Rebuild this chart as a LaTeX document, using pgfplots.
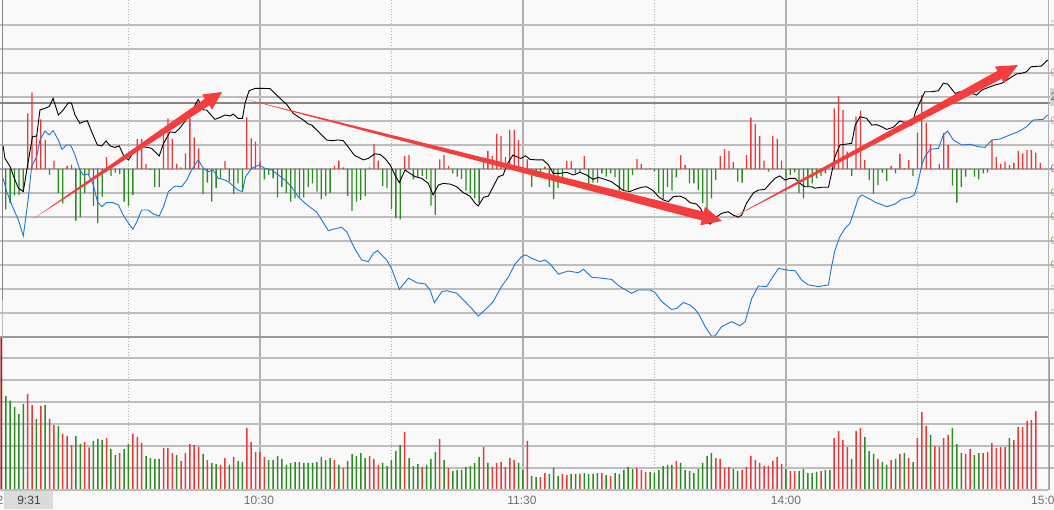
\documentclass[border=0pt]{standalone}
\usepackage{pgfplots}
\pgfplotsset{compat=1.18}
\usepackage{pgfplotstable}
\usepackage{fontspec}
\setmainfont{Liberation Sans}
\usetikzlibrary{calc}

\definecolor{bg}{HTML}{F9F9F9}
\definecolor{gridc}{HTML}{BDBDBD}
\definecolor{vgridc}{HTML}{B0B0B0}
\definecolor{dotc}{HTML}{A0A0A0}
\definecolor{upc}{HTML}{E8383A}
\definecolor{dnc}{HTML}{2E8B23}
\definecolor{bluec}{HTML}{1C78D4}
\definecolor{arrowc}{HTML}{F53D3D}
\definecolor{auctc}{HTML}{8B2A2A}
\definecolor{labc}{HTML}{707070}

% price line (black), units: one grid step = 1
\pgfplotstableread[row sep=\\]{
t v \\ 1.4 0.96 \\ 1.8 0.45 \\ 3 0.1 \\ 4.1 -0.46 \\ 4.9 -0.8 \\ 6 -0.94 \\ 6.8 -0.04 \\ 7.5 0.72 \\
8.1 1.35 \\ 9.05 1.37 \\ 9.8 2.46 \\ 10.95 2.53 \\ 11.9 2.6 \\ 12.8 2.94 \\ 14 2.25 \\ 15.1 2.46 \\
16.3 2.76 \\ 17 2.74 \\ 17.8 2.25 \\ 18.9 1.9 \\ 19.7 1.97 \\ 20.6 2.01 \\ 21.6 1.55 \\ 22.9 1.0 \\
23.9 0.96 \\ 24.9 1.17 \\ 25.8 0.96 \\ 26.9 0.9 \\ 27.9 0.96 \\ 29 0.51 \\ 30 0.38 \\ 30.7 0.58 \\
31.9 0.86 \\ 33.4 0.93 \\ 35.3 0.86 \\ 37 0.54 \\ 38 1.07 \\ 39.5 1.55 \\ 40.6 1.51 \\ 41.7 1.7 \\
44 2.25 \\ 45.9 2.9 \\ 47.1 2.46 \\ 47.8 2.46 \\ 49.7 2.07 \\ 50.9 2.15 \\ 52 2.25 \\ 53.2 2.21 \\
53.9 2.29 \\ 55 2.11 \\ 56 2.11 \\ 56.6 2.74 \\ 57.5 3.26 \\ 58.9 3.36 \\ 60.4 3.36 \\ 62.3 3.35 \\
63.4 3.15 \\ 64.6 2.94 \\ 66.1 2.69 \\ 67.6 2.32 \\ 68.7 2.18 \\ 69.9 2.04 \\ 71 1.88 \\ 71.8 1.83 \\
72.9 1.63 \\ 74.1 1.42 \\ 75.2 1.21 \\ 76.4 1.18 \\ 77.9 1.21 \\ 79 1.18 \\ 80.2 0.9 \\ 81.5 0.58 \\
83.6 0.38 \\ 84.7 0.44 \\ 86.2 0.63 \\ 87.4 0.61 \\ 88.5 0.44 \\ 89.7 0.17 \\ 90.8 -0.25 \\ 91.8 -0.57 \\
93.1 -0.04 \\ 94.2 -0.18 \\ 95.4 -0.32 \\ 96.9 -0.39 \\ 98.4 -0.6 \\ 99.5 -1.08 \\ 100.7 -0.67 \\ 101.8 -0.6 \\
103.4 -0.63 \\ 104.9 -0.74 \\ 106.4 -0.99 \\ 107.9 -1.13 \\ 109.1 -1.43 \\ 109.8 -1.54 \\ 111 -1.18 \\ 112.1 -1.13 \\
113.2 -0.74 \\ 114.4 -0.32 \\ 115.5 -0.25 \\ 116.3 0.17 \\ 117.7 0.58 \\ 118.6 0.51 \\ 119.5 0.44 \\ 120.6 0.55 \\
121.6 0.4 \\ 123.1 0.38 \\ 124.6 0.38 \\ 125.8 0.17 \\ 126.9 -0.18 \\ 128.4 -0.18 \\ 130 -0.14 \\ 131.5 -0.25 \\
133 -0.14 \\ 134.5 -0.25 \\ 136 -0.43 \\ 137.2 -0.35 \\ 138.7 -0.43 \\ 140.2 -0.53 \\ 141.8 -0.74 \\ 142.9 -0.9 \\
144.4 -0.94 \\ 145.6 -0.85 \\ 147.1 -0.76 \\ 148.2 -0.74 \\ 149.7 -0.9 \\ 150.9 -1.15 \\ 152 -1.29 \\ 153.2 -1.36 \\
154.3 -1.15 \\ 155.8 -1.13 \\ 157 -1.22 \\ 158.1 -1.4 \\ 159.6 -1.46 \\ 160.6 -1.66 \\ 161.5 -2.05 \\ 162.7 -2.3 \\
164.2 -1.99 \\ 165.3 -1.85 \\ 166.8 -1.78 \\ 168 -1.92 \\ 169.1 -2.01 \\ 169.9 -1.92 \\ 171 -1.43 \\ 172.6 -0.99 \\
173.7 -0.88 \\ 175.2 -0.85 \\ 176.4 -0.6 \\ 177.5 -0.39 \\ 178.6 -0.29 \\ 179.8 -0.46 \\ 180.9 -0.39 \\ 182.1 -0.39 \\
183.2 -0.6 \\ 184.3 -0.74 \\ 185.9 -0.74 \\ 186.6 -0.8 \\ 188.2 -0.76 \\ 189.7 -0.76 \\ 190.4 -0.18 \\ 191.2 0.51 \\
192.3 1.0 \\ 193.9 1.04 \\ 195 1.07 \\ 195.8 1.83 \\ 196.9 2.18 \\ 198.4 2.11 \\ 199.6 1.83 \\ 200.6 1.85 \\
201.5 1.79 \\ 203 1.65 \\ 204.5 1.74 \\ 206 2.0 \\ 207.2 1.93 \\ 208.7 1.83 \\ 209.6 2.39 \\ 210.6 2.8 \\
211.7 3.22 \\ 213.2 3.22 \\ 214.8 3.26 \\ 215.9 3.57 \\ 216.9 3.54 \\ 218.6 3.15 \\ 219.7 3.22 \\ 221.2 3.18 \\
222.4 3.15 \\ 223.5 3.08 \\ 224.7 3.29 \\ 226.2 3.4 \\ 227.7 3.5 \\ 229.2 3.57 \\ 230.7 3.74 \\ 232.6 3.96 \\
233.8 3.99 \\ 234.9 4.05 \\ 235.9 4.26 \\ 238.3 4.29 \\ 239.7 4.54 \\
}\blackdata

% index line (blue)
\pgfplotstableread[row sep=\\]{
t v \\ 1.4 -0.39 \\ 2.2 -0.94 \\ 3.7 -1.64 \\ 4.9 -2.13 \\ 6 -2.79 \\ 7.1 -1.29 \\ 7.9 0.1 \\ 9.05 0.51 \\
9.8 1.21 \\ 10.95 1.58 \\ 11.9 1.42 \\ 12.8 1.6 \\ 14 1.21 \\ 14.8 0.82 \\ 15.9 1.0 \\ 16.8 1.0 \\
17.8 0.58 \\ 18.9 -0.04 \\ 19.7 -0.25 \\ 20.8 -0.21 \\ 22 -0.67 \\ 22.9 -1.36 \\ 23.9 -1.57 \\ 25 -1.4 \\
26.5 -1.4 \\ 27.7 -1.5 \\ 28.8 -1.92 \\ 30 -2.26 \\ 31 -2.51 \\ 31.9 -2.2 \\ 33 -1.71 \\ 34.5 -1.71 \\
35.7 -1.88 \\ 37 -1.96 \\ 38 -1.57 \\ 39.1 -0.94 \\ 40.6 -0.71 \\ 42.1 -0.74 \\ 43.3 -0.46 \\ 44.4 -0.04 \\
45.9 0.38 \\ 47.1 0.03 \\ 48.2 -0.11 \\ 49.3 -0.04 \\ 50.5 -0.39 \\ 51.6 -0.43 \\ 52.8 -0.53 \\ 53.9 -0.71 \\
55 -0.88 \\ 56 -0.94 \\ 56.7 -0.32 \\ 58.1 0.03 \\ 59.8 0.17 \\ 61.1 0.03 \\ 62.7 -0.04 \\ 64.2 -0.25 \\
65.7 -0.46 \\ 67.2 -0.74 \\ 68.7 -1.15 \\ 70.3 -1.43 \\ 71.8 -1.64 \\ 72.9 -1.78 \\ 74.1 -2.13 \\ 75.6 -2.57 \\
76.7 -2.51 \\ 78.6 -2.43 \\ 79.8 -2.61 \\ 80.9 -3.05 \\ 81.7 -3.35 \\ 83.2 -3.79 \\ 84.7 -3.86 \\ 85.9 -3.51 \\
86.8 -3.4 \\ 88.9 -3.79 \\ 90 -4.14 \\ 91.8 -5.01 \\ 93.9 -4.55 \\ 95.8 -4.74 \\ 97.7 -4.79 \\ 98.8 -5.04 \\
99.8 -5.57 \\ 101.5 -5.11 \\ 102.6 -5.07 \\ 104.9 -5.18 \\ 106.8 -5.53 \\ 108.3 -5.81 \\ 109.8 -6.13 \\ 111.3 -5.88 \\
113.2 -5.53 \\ 115.1 -4.9 \\ 116.7 -4.49 \\ 118.2 -3.96 \\ 119.7 -3.65 \\ 120.6 -3.58 \\ 122 -3.72 \\ 123.9 -3.86 \\
125 -3.79 \\ 126.2 -3.96 \\ 128.1 -4.38 \\ 130.3 -4.25 \\ 132.6 -4.32 \\ 133.8 -4.18 \\ 135.7 -4.51 \\ 137.9 -4.55 \\
140.2 -4.6 \\ 142.1 -4.9 \\ 144.8 -5.18 \\ 146.3 -5.04 \\ 149 -5.04 \\ 150.1 -5.14 \\ 151.7 -5.53 \\ 153.9 -5.85 \\
155.1 -5.81 \\ 156.6 -5.56 \\ 158.1 -5.67 \\ 159.3 -5.85 \\ 160.4 -6.14 \\ 161.5 -6.55 \\ 163 -6.96 \\ 163.8 -6.96 \\
165.3 -6.57 \\ 167.6 -6.36 \\ 169.5 -6.53 \\ 170.7 -6.36 \\ 172.2 -5.39 \\ 173.7 -4.88 \\ 175.6 -4.9 \\ 176.8 -4.55 \\
178.3 -4.14 \\ 180.2 -4.21 \\ 182.1 -4.24 \\ 183.6 -4.63 \\ 185.1 -4.83 \\ 187.4 -4.9 \\ 189.7 -4.83 \\ 190.4 -4.07 \\
191.2 -3.38 \\ 192.3 -2.82 \\ 193.5 -2.47 \\ 194.6 -2.26 \\ 195.4 -1.85 \\ 196.5 -1.22 \\ 197.3 -1.08 \\ 199.2 -1.26 \\
200.5 -1.4 \\ 201.5 -1.46 \\ 203 -1.57 \\ 204.9 -1.46 \\ 206.4 -1.26 \\ 208.3 -1.18 \\ 209.3 -1.08 \\ 210.1 -0.6 \\
211 0.17 \\ 211.7 0.51 \\ 212.9 0.82 \\ 214.8 0.86 \\ 215.9 1.42 \\ 216.9 1.58 \\ 218.2 1.21 \\ 220.1 1.0 \\
222 1.03 \\ 223.9 0.93 \\ 225.4 0.9 \\ 227 1.21 \\ 228.9 1.25 \\ 231.1 1.42 \\ 233 1.55 \\ 234.9 1.76 \\
236.4 2.04 \\ 238.7 2.07 \\ 239.7 2.25 \\
}\bluedata

% red/green bars around the zero line
\pgfplotstableread[row sep=\\]{
t v \\ 2 -1.68 \\ 3 -1.43 \\ 4 -1.1 \\ 5 -1.08 \\ 6 -0.94 \\ 7 2.32 \\ 8 3.18 \\ 9 1.42 \\ 10 2.07 \\
11 1.21 \\ 12 -0.25 \\ 13 0.35 \\ 14 -1.01 \\ 15 -1.43 \\ 16 0.125 \\ 17 0.17 \\ 18 -2.15 \\ 19 -1.99 \\ 20 -1.01 \\
21 -0.25 \\ 22 -1.54 \\ 23 -2.26 \\ 24 -1.15 \\ 25 0.49 \\ 26 -0.29 \\ 27 -0.15 \\ 28 -0.21 \\ 29 -1.36 \\ 30 -1.54 \\
31 -1.08 \\ 32 1.24 \\ 33 1.24 \\ 34 0.21 \\ 35 -0.05 \\ 36 -0.76 \\ 37 -0.76 \\ 38 1.55 \\ 39 2.11 \\ 40 1.25 \\
41 0.21 \\ 42 0.07 \\ 43 0.65 \\ 44 2.11 \\ 45 1.32 \\ 46 0.86 \\ 47 -1.05 \\ 48 -0.57 \\ 49 -1.36 \\ 50 -0.8 \\
51 -0.39 \\ 52 0.33 \\ 53 -0.53 \\ 54 -1.04 \\ 55 -0.6 \\ 56 -0.88 \\ 57 2.15 \\ 58 1.28 \\ 59 1.14 \\ 60 0.31 \\
61 -0.43 \\ 62 -0.25 \\ 63 -0.39 \\ 64 -1.18 \\ 65 -0.74 \\ 66 -0.99 \\ 67 -1.36 \\ 68 -1.22 \\ 69 -1.18 \\ 70 -1.18 \\
71 -0.76 \\ 72 -0.6 \\ 73 -0.94 \\ 74 -1.26 \\ 75 -1.13 \\ 76 -0.99 \\ 77 0.125 \\ 78 0.35 \\ 79 0.07 \\ 80 -1.13 \\
81 -1.74 \\ 82 -1.36 \\ 83 -1.29 \\ 84 -1.13 \\ 85 0.07 \\ 86 1.04 \\ 87 0.35 \\ 88 -0.71 \\ 89 -0.8 \\ 90 -1.67 \\
91 -2.05 \\ 92 -2.1 \\ 93 0.54 \\ 94 0.58 \\ 95 -0.43 \\ 96 -0.35 \\ 97 -0.29 \\ 98 -0.43 \\ 99 -1.53 \\ 100 -1.92 \\
101 0.4 \\ 102 0.58 \\ 103 0.125 \\ 104 -0.18 \\ 105 -0.32 \\ 106 -0.42 \\ 107 -0.9 \\ 108 -0.99 \\ 109 -1.22 \\ 110 -1.43 \\
111 0.35 \\ 112 0.76 \\ 113 0.54 \\ 114 1.46 \\ 115 1.37 \\ 116 0.49 \\ 117 1.63 \\ 118 1.63 \\ 119 1.21 \\ 121 0.4 \\
122 -0.74 \\ 123 -0.32 \\ 124 -0.36 \\ 125 0.1 \\ 126 -0.74 \\ 127 -1.26 \\ 128 -0.8 \\ 129 -0.35 \\ 130 0.33 \\ 131 0.33 \\
132 -0.18 \\ 133 -0.15 \\ 134 0.54 \\ 135 -0.8 \\ 136 -0.57 \\ 137 -0.57 \\ 138 -0.18 \\ 139 -0.32 \\ 140 -0.18 \\ 141 -0.35 \\
142 -0.9 \\ 143 -0.9 \\ 144 -0.9 \\ 145 -0.26 \\ 146 0.42 \\ 147 0.21 \\ 148 -0.03 \\ 149 0.03 \\ 150 -0.1 \\ 151 -0.99 \\
152 -1.26 \\ 153 -0.74 \\ 154 -0.9 \\ 155 -0.35 \\ 156 0.58 \\ 157 0.17 \\ 158 -0.6 \\ 159 -0.6 \\ 160 -0.88 \\ 161 -1.42 \\
162 -1.96 \\ 163 -1.22 \\ 164 -0.46 \\ 165 0.54 \\ 166 0.83 \\ 167 0.75 \\ 168 0.29 \\ 169 -0.53 \\ 170 -0.57 \\ 171 0.58 \\
172 2.14 \\ 173 1.88 \\ 174 1.37 \\ 175 0.35 \\ 176 -0.11 \\ 177 1.37 \\ 178 1.25 \\ 179 0.35 \\ 180 -0.39 \\ 181 -0.25 \\
182 -0.14 \\ 183 -0.99 \\ 184 -1.22 \\ 185 -0.74 \\ 186 -0.6 \\ 187 -0.39 \\ 188 -0.29 \\ 189 -0.18 \\ 191 2.53 \\ 192 3.04 \\
193 2.46 \\ 194 0.72 \\ 195 -0.29 \\ 196 2.18 \\ 197 2.43 \\ 198 0.38 \\ 199 -0.46 \\ 200 -1.04 \\ 201 -0.67 \\ 202 -0.15 \\
203 -0.49 \\ 204 0.125 \\ 205 -0.18 \\ 206 0.63 \\ 207 0.05 \\ 208 0.38 \\ 209 -0.29 \\ 210 1.51 \\ 211 3.08 \\ 212 1.93 \\
213 1.04 \\ 215 0.21 \\ 216 1.51 \\ 217 1.0 \\ 218 -0.69 \\ 219 -1.4 \\ 220 -0.74 \\ 221 -0.32 \\ 222 -0.03 \\ 223 -0.32 \\
224 -0.43 \\ 225 -0.18 \\ 226 -0.15 \\ 227 1.21 \\ 228 0.51 \\ 229 0.21 \\ 230 0.31 \\ 231 0.17 \\ 232 0.26 \\ 233 0.75 \\
234 0.65 \\ 235 0.79 \\ 236 0.79 \\ 237 0.68 \\ 238 0.26 \\
}\bardata

% volume: c = 1 up (red), -1 down (green), 2 opening auction
\pgfplotstableread[row sep=\\]{
t v c \\ 1 6.94 2 \\ 2 4.27 -1 \\ 3 4.06 -1 \\ 4 3.77 -1 \\ 5 3.45 -1 \\ 6 3.91 -1 \\ 7 4.36 1 \\ 8 3.86 1 \\
9 3.23 -1 \\ 10 3.82 1 \\ 11 3.86 -1 \\ 12 3.23 1 \\ 13 2.95 1 \\ 14 2.91 -1 \\ 15 2.55 1 \\ 16 2.45 1 \\
17 2.05 1 \\ 18 2.45 -1 \\ 19 2.09 -1 \\ 20 2.18 1 \\ 21 1.94 1 \\ 22 2.23 -1 \\ 23 2.32 -1 \\ 24 2.27 -1 \\
25 2.36 1 \\ 26 1.86 -1 \\ 27 1.59 -1 \\ 28 1.68 1 \\ 29 1.86 -1 \\ 30 2.09 -1 \\ 31 2.55 1 \\ 32 2.41 1 \\
33 2.14 1 \\ 34 1.55 -1 \\ 35 1.45 -1 \\ 36 1.41 -1 \\ 37 1.41 -1 \\ 38 1.91 1 \\ 39 1.91 1 \\ 40 1.68 1 \\
41 1.59 -1 \\ 42 1.32 1 \\ 43 1.68 1 \\ 44 2.09 1 \\ 45 2.05 1 \\ 46 1.95 1 \\ 47 1.64 -1 \\ 48 1.36 1 \\
49 1.23 -1 \\ 50 1.18 -1 \\ 51 1.14 1 \\ 52 1.45 1 \\ 53 1.14 -1 \\ 54 1.5 1 \\ 55 1.32 -1 \\ 56 1.27 -1 \\
57 2.82 1 \\ 58 2.18 1 \\ 59 1.73 1 \\ 60 1.73 1 \\ 61 1.5 1 \\ 62 1.36 -1 \\ 63 1.36 -1 \\ 64 1.55 -1 \\
65 1.41 -1 \\ 66 1.14 -1 \\ 67 1.23 -1 \\ 68 1.27 -1 \\ 69 1.27 -1 \\ 70 1.23 -1 \\ 71 1.23 -1 \\ 72 1.23 -1 \\
73 1.27 -1 \\ 74 1.5 -1 \\ 75 1.36 -1 \\ 76 1.45 -1 \\ 77 1.36 1 \\ 78 1.14 -1 \\ 79 1.0 1 \\ 80 1.32 -1 \\
81 1.64 -1 \\ 82 1.55 -1 \\ 83 1.68 -1 \\ 84 1.45 -1 \\ 85 1.55 1 \\ 86 1.41 1 \\ 87 1.14 1 \\ 88 1.23 -1 \\
89 1.09 -1 \\ 90 1.36 -1 \\ 91 1.77 -1 \\ 92 2.05 -1 \\ 93 2.64 1 \\ 94 1.45 -1 \\ 95 1.09 -1 \\ 96 1.18 -1 \\
97 1.05 1 \\ 98 1.14 -1 \\ 99 1.41 -1 \\ 100 1.73 -1 \\ 101 2.32 1 \\ 102 1.36 -1 \\ 103 1.0 1 \\ 104 0.86 -1 \\
105 0.91 -1 \\ 106 0.91 -1 \\ 107 1.05 -1 \\ 108 1.09 -1 \\ 109 1.23 -1 \\ 110 1.5 -1 \\ 111 1.95 1 \\ 112 1.23 -1 \\
113 1.05 1 \\ 114 1.23 1 \\ 115 1.27 1 \\ 116 1.05 1 \\ 117 1.45 1 \\ 118 1.36 1 \\ 119 1.23 -1 \\ 120 0.91 -1 \\
121 2.23 1 \\ 122 0.64 -1 \\ 123 0.59 -1 \\ 124 0.59 1 \\ 125 0.77 1 \\ 126 0.73 -1 \\ 127 1.0 -1 \\ 128 0.64 -1 \\
129 0.73 1 \\ 130 0.68 1 \\ 131 0.73 -1 \\ 132 0.73 -1 \\ 133 0.73 1 \\ 134 0.77 -1 \\ 135 0.73 -1 \\ 136 0.73 -1 \\
137 0.77 -1 \\ 138 0.77 1 \\ 139 0.68 -1 \\ 140 0.64 1 \\ 141 0.77 -1 \\ 142 0.73 -1 \\ 143 0.91 -1 \\ 144 1.05 -1 \\
145 0.95 -1 \\ 146 1.0 1 \\ 147 0.91 1 \\ 148 0.82 1 \\ 149 0.82 -1 \\ 150 0.77 -1 \\ 151 0.91 -1 \\ 152 1.09 -1 \\
153 1.14 -1 \\ 154 1.14 -1 \\ 155 1.32 1 \\ 156 1.23 -1 \\ 157 0.91 -1 \\ 158 0.86 -1 \\ 159 0.77 -1 \\ 160 0.95 -1 \\
161 1.23 -1 \\ 162 1.55 -1 \\ 163 1.68 -1 \\ 164 1.45 1 \\ 165 1.41 1 \\ 166 1.0 1 \\ 167 1.05 1 \\ 168 0.95 -1 \\
169 0.86 -1 \\ 170 0.91 1 \\ 171 1.05 1 \\ 172 1.55 1 \\ 173 1.36 1 \\ 174 1.23 1 \\ 175 1.09 1 \\ 176 1.09 1 \\
177 1.32 1 \\ 178 1.5 1 \\ 179 1.18 1 \\ 180 0.95 -1 \\ 181 0.86 1 \\ 182 0.86 1 \\ 183 0.86 -1 \\ 184 0.95 -1 \\
185 0.77 -1 \\ 186 0.77 -1 \\ 187 0.82 -1 \\ 188 0.86 1 \\ 189 0.91 -1 \\ 190 0.91 -1 \\ 191 2.36 1 \\ 192 2.68 1 \\
193 2.27 1 \\ 194 1.95 1 \\ 195 1.41 -1 \\ 196 2.68 1 \\ 197 2.82 1 \\ 198 2.41 -1 \\ 199 1.77 -1 \\ 200 1.64 -1 \\
201 1.41 1 \\ 202 1.27 -1 \\ 203 1.14 -1 \\ 204 1.36 1 \\ 205 1.41 -1 \\ 206 1.64 1 \\ 207 1.68 -1 \\ 208 1.45 1 \\
209 1.27 -1 \\ 210 2.36 1 \\ 211 3.55 1 \\ 212 2.91 1 \\ 213 2.5 -1 \\ 214 2.0 1 \\ 215 1.95 1 \\ 216 2.36 1 \\
217 2.5 1 \\ 218 2.82 -1 \\ 219 2.09 -1 \\ 220 1.68 -1 \\ 221 1.64 1 \\ 222 1.86 1 \\ 223 1.59 -1 \\ 224 1.68 -1 \\
225 1.68 1 \\ 226 1.73 1 \\ 227 2.14 1 \\ 228 1.91 1 \\ 229 1.95 1 \\ 230 1.95 1 \\ 231 2.36 -1 \\ 232 2.27 1 \\
233 2.86 1 \\ 234 2.86 1 \\ 235 3.14 1 \\ 236 3.18 1 \\ 237 3.59 1 \\ 238 0.05 1 \\ 240 5.98 1 \\
}\voldata

% tapered arrow in pixel coordinates: tail x,y ; tip x,y ; shaft half width ; head half width ; head length
\newcommand{\fatarrow}[7]{%
  \coordinate (T) at (#1,#2);
  \coordinate (H) at (#3,#4);
  \coordinate (N) at ($(H)!#7!(T)$);
  \fill[arrowc] (T) -- ($(N)!#5!90:(H)$) -- ($(N)!#6!90:(H)$) -- (H)
     -- ($(N)!#6!-90:(H)$) -- ($(N)!#5!-90:(H)$) -- cycle;
}

\pgfplotsset{
  panel/.style={
    scale only axis, width=1054pt,
    xmin=0.6845, xmax=241.16,
    axis line style={draw=none},
    major tick length=0pt, minor tick length=0pt,
    xticklabels={}, yticklabels={},
    xtick={60,120,180}, minor xtick={30,90,150,210},
    xmajorgrids, xminorgrids, ymajorgrids,
    major grid style={draw=gridc, line width=1.2pt},
    x grid style={draw=vgridc, line width=1.2pt},
    minor grid style={draw=dotc, line width=0.8pt, dotted},
  }
}

\begin{document}
\begin{tikzpicture}
\clip (0,0) rectangle (1054pt,510pt);
\fill[bg] (0,0) rectangle (1054pt,510pt);

% upper panel
\begin{axis}[panel, at={(0,173pt)}, anchor=south west, height=337pt,
  ymin=-7, ymax=7.042, ytick={-6,...,6}]
  \draw[draw=gridc!90!black, line width=2.4pt] (axis cs:0.6845,0) -- (axis cs:241.16,0);
  \draw[draw=black!48, line width=1.1pt] (axis cs:0.6845,2.75) -- (axis cs:241.16,2.75);
  \addplot[ybar, bar width=1.3pt, bar shift=0pt, fill=upc, draw=none]
    table[x=t, y expr={\thisrow{v}>0 ? \thisrow{v} : 0}] {\bardata};
  \addplot[ybar, bar width=1.3pt, bar shift=0pt, fill=dnc, draw=none]
    table[x=t, y expr={\thisrow{v}<0 ? \thisrow{v} : 0}] {\bardata};
  \addplot[bluec, line width=0.9pt] table[x=t, y=v] {\bluedata};
  \addplot[black, line width=0.9pt] table[x=t, y=v] {\blackdata};
\end{axis}

% lower panel (volume)
\begin{axis}[panel, at={(0,20pt)}, anchor=south west, height=153pt,
  ymin=0, ymax=6.955, ytick={1,...,6}]
  \addplot[ybar, bar width=1.5pt, bar shift=0pt, fill=dnc, draw=none]
    table[x=t, y expr={\thisrow{c}<0 ? \thisrow{v} : 0}] {\voldata};
  \addplot[ybar, bar width=1.5pt, bar shift=0pt, fill=upc, draw=none]
    table[x=t, y expr={\thisrow{c}>0.5 ? \thisrow{v} : 0}] {\voldata};
  \addplot[ybar, bar width=1.5pt, bar shift=0pt, fill=auctc, draw=none]
    table[x=t, y expr={\thisrow{c}>1.5 ? \thisrow{v} : 0}] {\voldata};
\end{axis}

\begin{scope}[x=1pt, y=-1pt, yshift=510pt]
  % frame lines
  \draw[draw=black!40, line width=2.2pt] (0,337) -- (1048,337);
  \draw[draw=gridc, line width=1.2pt] (0,490) -- (1048,490);
  \draw[draw=black!48, line width=1.1pt] (2.7,0) -- (2.7,300);
  \draw[draw=gridc, line width=1pt] (2.7,300) -- (2.7,337);
  \draw[draw=vgridc, line width=1.2pt] (1048.3,0) -- (1048.3,490);
  % arrows
  \fatarrow{33}{219}{222}{92}{4pt}{9pt}{18pt}
  \fatarrow{237}{97}{722}{221}{4.5pt}{9.5pt}{20pt}
  \fatarrow{728}{220}{1018}{65}{4.5pt}{9.5pt}{21pt}
  % time labels
  \fill[black!14] (4,491) rectangle (53,509);
  \node[font=\fontsize{12}{14}\selectfont, text=black!75] at (29,500) {9:31};
  \node[font=\fontsize{12}{14}\selectfont, text=labc] at (0,500) {2};
  \node[font=\fontsize{12}{14}\selectfont, text=labc] at (259,500) {10:30};
  \node[font=\fontsize{12}{14}\selectfont, text=labc] at (522,500) {11:30};
  \node[font=\fontsize{12}{14}\selectfont, text=labc] at (786,500) {14:00};
  \node[font=\fontsize{12}{14}\selectfont, text=labc, anchor=west, inner sep=0pt] at (1031,500) {15:00};
  % clipped right-hand scale labels
  \fill[black!18] (1049.5,88) rectangle (1054,106);
  \foreach \yy in {73,121,145} {\node[font=\fontsize{11}{12}\selectfont, text=upc!60, anchor=west, inner sep=0pt] at (1050.5,\yy) {0};}
  \node[font=\fontsize{11}{12}\selectfont, text=black!60, anchor=west, inner sep=0pt] at (1050.5,97) {2};
  \node[font=\fontsize{11}{12}\selectfont, text=blue!50!red!60, anchor=west, inner sep=0pt] at (1050.5,169) {0};
  \foreach \yy in {193,217,241,265} {\node[font=\fontsize{11}{12}\selectfont, text=olive!70, anchor=west, inner sep=0pt] at (1050.5,\yy) {0};}
  \foreach \yy in {23,288,312} {\node[font=\fontsize{11}{12}\selectfont, text=orange!70!black!60, anchor=west, inner sep=0pt] at (1050.5,\yy) {-};}
\end{scope}
\end{tikzpicture}
\end{document}
